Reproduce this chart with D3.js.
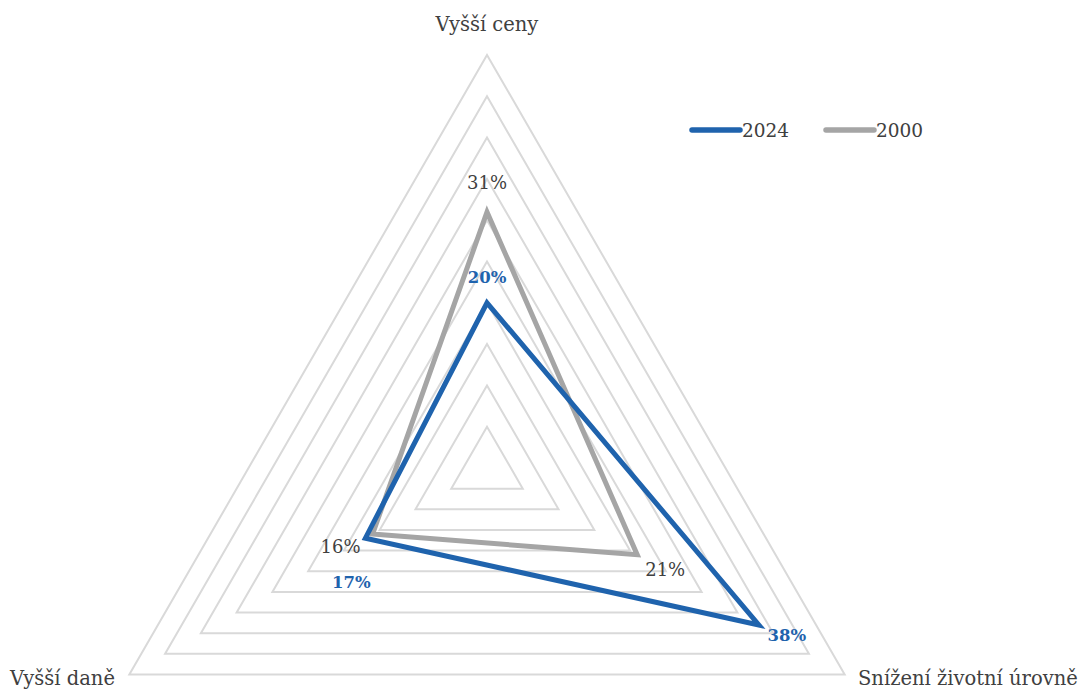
<!DOCTYPE html>
<html>
<head>
<meta charset="utf-8">
<script src="https://cdn.jsdelivr.net/npm/d3@7"></script>
<style>
  body { margin: 0; background: #fff; }
  svg { display: block; }
</style>
</head>
<body>
<div id="chart"></div>
<script>
// kategorie (osy)
const categories = ['Vyšší ceny', 'Snížení životní úrovně', 'Vyšší daně'];
// řady
const seriesNames = ['2024', '2000'];
const values2024 = [20, 38, 17];
const values2000 = [31, 21, 16];
const gridLevels = [5, 10, 15, 20, 25, 30, 35, 40, 45, 50];

const width = 1084, height = 691;
const cx = 487, cy = 468, R = 413;
const colors = { '2024': '#1f63ad', '2000': '#a5a5a5' };

const svg = d3.select('#chart').append('svg')
  .attr('width', width).attr('height', height);

const r = d3.scaleLinear().domain([0, 50]).range([0, R]);
// úhel pro každou osu, začíná nahoře, po směru hodinových ručiček
const angle = d3.scaleLinear().domain([0, categories.length]).range([-Math.PI / 2, 1.5 * Math.PI]);
const pt = (i, v) => [cx + r(v) * Math.cos(angle(i)), cy + r(v) * Math.sin(angle(i))];

// mřížka
svg.append('g').attr('class', 'grid')
  .selectAll('polygon')
  .data(gridLevels).enter()
  .append('polygon')
  .attr('points', d => categories.map((c, i) => pt(i, d).join(',')).join(' '))
  .attr('fill', 'none')
  .attr('stroke', '#d9d9d9')
  .attr('stroke-width', 2);

// popisky os
const axisLabelPos = [
  { x: cx, y: 31, anchor: 'middle' },
  { x: 858, y: 685, anchor: 'start' },
  { x: 10, y: 685, anchor: 'start' }
];
svg.append('g').selectAll('text')
  .data(categories).enter()
  .append('text')
  .attr('x', (d, i) => axisLabelPos[i].x)
  .attr('y', (d, i) => axisLabelPos[i].y)
  .attr('text-anchor', (d, i) => axisLabelPos[i].anchor)
  .attr('fill', '#404040')
  .style('font-family', '"DejaVu Serif", serif')
  .style('font-size', '19.5px')
  .text(d => d);

// řady
const series = [
  { name: '2000', values: values2000, bold: false, offsets: [[0, -28], [28, 16], [-32, 14]] },
  { name: '2024', values: values2024, bold: true, offsets: [[0, -24], [28, 12], [-14, 45]] }
];
const line = d3.line().curve(d3.curveLinearClosed);

series.forEach(s => {
  svg.append('path')
    .attr('d', line(s.values.map((v, i) => pt(i, v))))
    .attr('fill', 'none')
    .attr('stroke', colors[s.name])
    .attr('stroke-width', 5)
    .attr('stroke-linejoin', 'miter');
});

series.forEach(s => {
  svg.append('g').selectAll('text')
    .data(s.values).enter()
    .append('text')
    .attr('x', (v, i) => pt(i, v)[0] + s.offsets[i][0])
    .attr('y', (v, i) => pt(i, v)[1] + s.offsets[i][1])
    .attr('text-anchor', 'middle')
    .attr('dominant-baseline', 'middle')
    .attr('fill', s.bold ? colors[s.name] : '#404040')
    .style('font-family', '"DejaVu Serif", serif')
    .style('font-weight', s.bold ? 'bold' : 'normal')
    .style('font-size', s.bold ? '16.5px' : '18px')
    .text(v => v + '%');
});

// legenda
const legend = svg.append('g').attr('class', 'legend')
  .selectAll('g')
  .data(seriesNames).enter()
  .append('g')
  .attr('transform', (d, i) => 'translate(' + (692 + i * 134) + ',130)');
legend.append('line')
  .attr('x1', 0).attr('x2', 48)
  .attr('stroke', d => colors[d])
  .attr('stroke-width', 5.5)
  .attr('stroke-linecap', 'round');
legend.append('text')
  .attr('x', 50).attr('y', 7)
  .attr('fill', '#404040')
  .style('font-family', '"DejaVu Serif", serif')
  .style('font-size', '18.5px')
  .text(d => d);
</script>
</body>
</html>
